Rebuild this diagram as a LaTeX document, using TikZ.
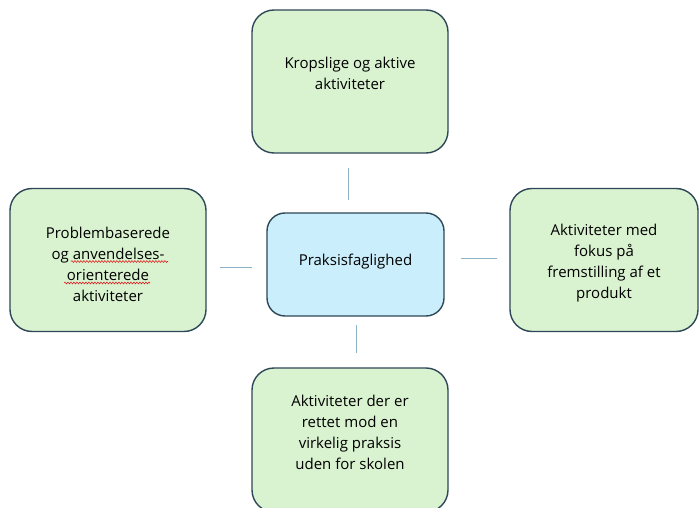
\documentclass[tikz,border=0pt]{standalone}
\usepackage{fontspec}
\setmainfont{Open Sans}
\usetikzlibrary{decorations.pathmorphing}
\definecolor{boxgreen}{HTML}{D9F2D0}
\definecolor{boxblue}{HTML}{CAEEFB}
\definecolor{boxedge}{HTML}{2F4858}
\definecolor{linkcol}{HTML}{8DB3C7}
\definecolor{squig}{HTML}{E02020}
\begin{document}
\begin{tikzpicture}[x=1pt,y=-1pt,
  boxshape/.style={draw=boxedge, line width=1.4pt, rounded corners=22pt, rectangle, inner sep=0pt},
  greenbox/.style={boxshape, fill=boxgreen, minimum width=196pt, minimum height=143pt},
  bluebox/.style={boxshape, fill=boxblue, minimum width=177pt, minimum height=103pt, rounded corners=18pt},
  txt/.style={align=center, font=\fontsize{15pt}{21pt}\selectfont, text=black, inner sep=0pt},
  link/.style={draw=linkcol, line width=1pt},
  spell/.style={draw=squig, line width=0.6pt, decorate, decoration={snake, segment length=3pt, amplitude=0.9pt}}]
\useasboundingbox (0,0) rectangle (699,508);
\fill[white] (0,0) rectangle (699,508);
% boxes
\node[greenbox] (topbox) at (350,81.5) {};
\node[greenbox] (leftbox) at (108,260) {};
\node[greenbox, minimum width=188pt] (rightbox) at (604,260) {};
\node[greenbox, minimum height=144pt] (botbox) at (350,440) {};
\node[bluebox] (center) at (355.5,264.5) {};
% texts
\node[txt] (toptext) at (350,73) {Kropslige og aktive\\aktiviteter};
\node[txt] (lefttext) at (108,264) {Problembaserede\\og anvendelses-\\orienterede\\aktiviteter};
\node[txt] (centertext) at (355.5,262) {Praksisfaglighed};
\node[txt] (righttext) at (604,263) {Aktiviteter med\\fokus på\\fremstilling af et\\produkt};
\node[txt] (bottext) at (350,432) {Aktiviteter der er\\rettet mod en\\virkelig praksis\\uden for skolen};
% spelling marks
\draw[spell] (71,261.5) -- (168,261.5);
\draw[spell] (64,283) -- (150,283);
% connectors (free-standing short strokes)
\coordinate (t1) at (348,168); \coordinate (t2) at (348,200);
\coordinate (l1) at (220,267); \coordinate (l2) at (252,267);
\coordinate (r1) at (461,258); \coordinate (r2) at (497,258);
\coordinate (b1) at (356,325); \coordinate (b2) at (356,353);
\draw[link] (t1) -- (t2);
\draw[link] (l1) -- (l2);
\draw[link] (r1) -- (r2);
\draw[link] (b1) -- (b2);
\end{tikzpicture}
\end{document}
